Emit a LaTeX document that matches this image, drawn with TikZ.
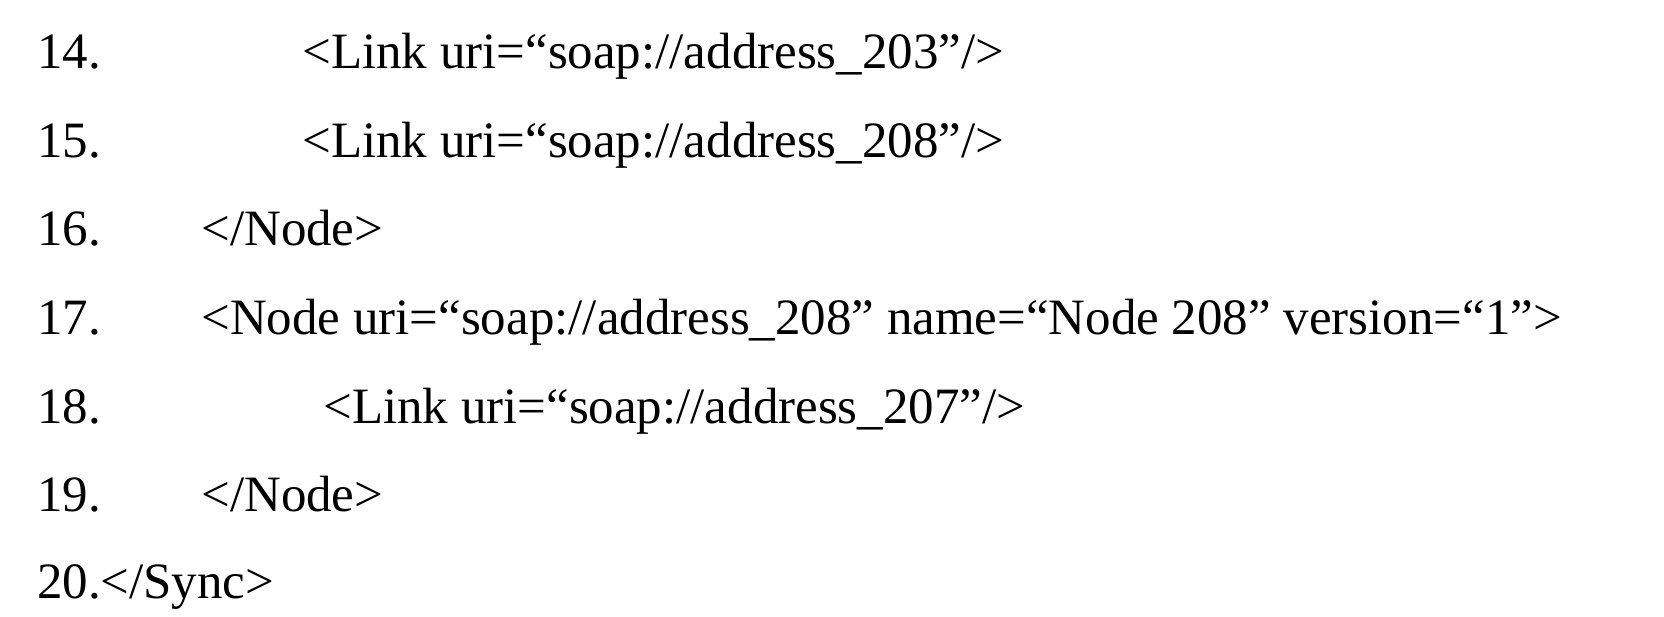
\documentclass[tikz,border=0pt]{standalone}
\usepackage{fontspec}
\setmainfont{Liberation Serif}
\begin{document}
\begin{tikzpicture}[x=0.02cm, y=-0.02cm]
\tikzset{code/.style={anchor=base west, inner sep=0pt, font=\fontsize{29}{34}\selectfont}}
\useasboundingbox (0,0) rectangle (1664,617);
\node[code] (n14) at (37,69) {14.};
\node[code] (n15) at (37,158) {15.};
\node[code] (n16) at (37,246) {16.};
\node[code] (n17) at (37,335) {17.};
\node[code] (n18) at (37,424) {18.};
\node[code] (n19) at (37,512) {19.};
\node[code] (n20) at (37,599) {20.};
\node[code] (l14) at (302,69) {<Link uri=“soap://address\_203”/>};
\node[code] (l15) at (302,158) {<Link uri=“soap://address\_208”/>};
\node[code] (l16) at (201,246) {</Node>};
\node[code] (l17) at (201,335) {<Node uri=“soap://address\_208” name=“Node 208” version=“1”>};
\node[code] (l18) at (323,424) {<Link uri=“soap://address\_207”/>};
\node[code] (l19) at (201,512) {</Node>};
\node[code] (l20) at (100,599) {</Sync>};
\end{tikzpicture}
\end{document}
